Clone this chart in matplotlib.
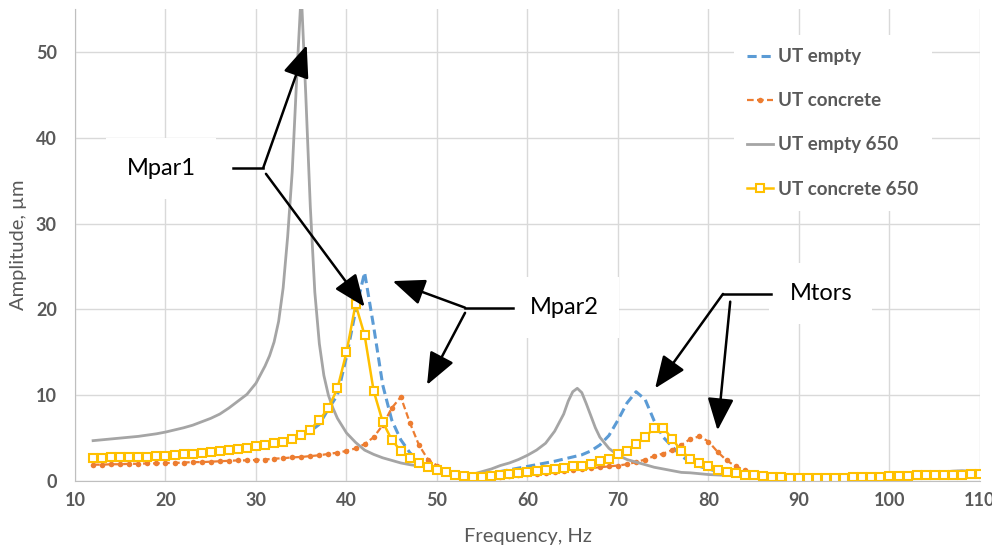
import matplotlib.pyplot as plt

plt.rcParams['font.family'] = ['Lato', 'DejaVu Sans']

# Datos (frecuencia en Hz, amplitud en µm)
freq = list(range(12, 111))

ut_concrete_650 = [
    2.7, 2.7, 2.75, 2.75, 2.8, 2.8, 2.85, 2.9, 2.95, 3.0,        # 12-21
    3.1, 3.2, 3.3, 3.4, 3.5, 3.6, 3.75, 3.9, 4.05, 4.2,          # 22-31
    4.4, 4.6, 4.9, 5.4, 6.0, 7.1, 8.5, 10.8, 15.0, 20.6,         # 32-41
    17.0, 10.5, 6.9, 4.8, 3.5, 2.7, 2.1, 1.6, 1.3, 1.0,          # 42-51
    0.75, 0.55, 0.45, 0.45, 0.6, 0.7, 0.8, 0.9, 1.05, 1.2,       # 52-61
    1.3, 1.4, 1.5, 1.7, 1.8, 2.0, 2.3, 2.6, 3.1, 3.5,            # 62-71
    4.3, 5.1, 6.2, 6.2, 4.9, 3.5, 2.6, 2.1, 1.7, 1.3,            # 72-81
    1.1, 0.9, 0.75, 0.65, 0.55, 0.5, 0.45, 0.4, 0.35, 0.3,       # 82-91
    0.3, 0.35, 0.35, 0.4, 0.45, 0.45, 0.5, 0.5, 0.55, 0.6,       # 92-101
    0.6, 0.65, 0.65, 0.7, 0.7, 0.75, 0.75, 0.8, 0.8,             # 102-110
]

ut_concrete = [
    1.9, 1.9, 1.95, 1.95, 2.0, 2.0, 2.05, 2.05, 2.1, 2.1,        # 12-21
    2.15, 2.2, 2.2, 2.25, 2.3, 2.35, 2.4, 2.4, 2.45, 2.5,        # 22-31
    2.6, 2.65, 2.75, 2.8, 2.9, 3.0, 3.15, 3.3, 3.5, 3.8,         # 32-41
    4.3, 5.1, 6.5, 8.5, 9.8, 6.8, 4.2, 2.5, 1.8, 1.3,            # 42-51
    0.9, 0.6, 0.45, 0.4, 0.45, 0.5, 0.6, 0.7, 0.8, 0.85,         # 52-61
    0.95, 1.05, 1.15, 1.25, 1.35, 1.5, 1.6, 1.7, 1.8, 1.95,      # 62-71
    2.2, 2.5, 2.9, 3.2, 3.6, 4.2, 4.9, 5.2, 4.6, 3.4,            # 72-81
    2.4, 1.7, 1.3, 0.95, 0.75, 0.6, 0.5, 0.45, 0.4, 0.35,        # 82-91
    0.3, 0.3, 0.3, 0.35, 0.4, 0.4, 0.45, 0.45, 0.5, 0.55,        # 92-101
    0.55, 0.6, 0.6, 0.65, 0.65, 0.7, 0.7, 0.75, 0.75,            # 102-110
]

ut_empty = [
    2.6, 2.6, 2.65, 2.65, 2.7, 2.7, 2.75, 2.8, 2.85, 2.9,        # 12-21
    3.0, 3.1, 3.2, 3.3, 3.4, 3.5, 3.65, 3.8, 3.95, 4.1,          # 22-31
    4.3, 4.5, 4.8, 5.2, 5.8, 6.6, 8.4, 10.0, 14.5, 19.8,         # 32-41
    24.3, 18.0, 11.2, 7.1, 4.8, 3.3, 2.3, 1.8, 1.4, 1.1,         # 42-51
    0.8, 0.6, 0.5, 0.6, 0.85, 1.1, 1.3, 1.5, 1.7, 1.9,           # 52-61
    2.1, 2.3, 2.55, 2.8, 3.05, 3.5, 4.2, 5.3, 7.1, 9.1,          # 62-71
    10.4, 9.5, 7.0, 5.1, 4.0, 2.9, 2.2, 1.7, 1.4, 1.1,           # 72-81
    0.9, 0.75, 0.65, 0.55, 0.5, 0.45, 0.4, 0.35, 0.3, 0.3,       # 82-91
    0.3, 0.3, 0.35, 0.35, 0.4, 0.45, 0.45, 0.5, 0.5, 0.55,       # 92-101
    0.55, 0.6, 0.6, 0.65, 0.65, 0.7, 0.7, 0.75, 0.75,            # 102-110
]

freq_650 = [12, 13, 14, 15, 16, 17, 18, 19, 20, 21, 22, 23, 24, 25, 26, 27,
            28, 29, 30, 31, 31.5, 32, 32.5, 33, 33.5, 34, 34.5, 35, 35.5, 36,
            36.5, 37, 37.5, 38, 38.5, 39, 40, 41, 42, 43, 44, 45, 46, 47, 48,
            49, 50, 51, 52, 53, 54, 55, 56, 57, 58, 59, 60, 61, 62, 63, 64,
            64.5, 65, 65.5, 66, 66.5, 67, 67.5, 68, 69, 70, 71, 72, 73, 74,
            75, 76, 77, 78, 79, 80, 82, 85, 90, 95, 100, 103, 105, 107, 108,
            109, 110]
ut_empty_650 = [4.7, 4.8, 4.9, 5.0, 5.1, 5.2, 5.35, 5.5, 5.7, 5.95, 6.2, 6.5,
                6.9, 7.3, 7.8, 8.5, 9.3, 10.1, 11.4, 13.4, 14.6, 16.2, 18.6,
                22.5, 28.5, 36.0, 47.0, 57.0, 45.0, 32.0, 22.0, 16.0, 12.3,
                10.0, 8.5, 7.3, 5.6, 4.5, 3.6, 3.1, 2.7, 2.4, 2.1, 1.9, 1.75,
                1.6, 1.4, 1.2, 1.0, 0.8, 0.8, 1.1, 1.4, 1.8, 2.1, 2.5, 3.0,
                3.6, 4.4, 5.8, 7.8, 9.3, 10.4, 10.8, 10.3, 9.0, 7.6, 6.2, 5.1,
                3.8, 3.0, 2.5, 2.2, 1.9, 1.6, 1.4, 1.2, 1.0, 0.95, 0.85, 0.75,
                0.65, 0.55, 0.45, 0.5, 0.6, 0.75, 0.95, 1.15, 1.2, 1.15, 1.05]

BLUE = '#5B9BD5'
ORANGE = '#ED7D31'
GRAY = '#A5A5A5'
YELLOW = '#FFC000'
TXT = '#595959'

fig = plt.figure(figsize=(9.92, 5.48), dpi=100)
ax = fig.add_axes([0.0756, 0.1223, 0.9123, 0.8611])

ax.plot(freq, ut_empty, color=BLUE, lw=2.2, linestyle=(0, (3, 1.6)), label='UT empty')
ax.plot(freq, ut_concrete, color=ORANGE, lw=1.6, linestyle=(0, (3, 1.5)),
        marker='o', markersize=4, markeredgewidth=0, label='UT concrete')
ax.plot(freq_650, ut_empty_650, color=GRAY, lw=2.0, label='UT empty 650')
ax.plot(freq, ut_concrete_650, color=YELLOW, lw=1.8, marker='s', markersize=6,
        markerfacecolor='white', markeredgecolor=YELLOW, markeredgewidth=1.5,
        label='UT concrete 650')

ax.set_xlim(10, 110)
ax.set_ylim(0, 55)
ax.set_xticks(range(10, 111, 10))
ax.set_yticks(range(0, 51, 10))
ax.grid(True, color='#D9D9D9', lw=1)
ax.set_axisbelow(True)
for s in ['top', 'right']:
    ax.spines[s].set_visible(False)
for s in ['left', 'bottom']:
    ax.spines[s].set_color('#BFBFBF')
ax.tick_params(length=0, labelsize=13, labelcolor=TXT)
ax.tick_params(axis='y', pad=13)
ax.tick_params(axis='x', pad=8)
for lab in ax.get_xticklabels() + ax.get_yticklabels():
    lab.set_fontweight('bold')

ax.set_xlabel('Frequency, Hz', fontsize=14.5, color=TXT)
ax.set_ylabel('Amplitude, µm', fontsize=14.5, color=TXT)
ax.xaxis.set_label_coords(0.5, -0.10)
ax.yaxis.set_label_coords(-0.053, 0.5)

leg = ax.legend(loc='upper left', bbox_to_anchor=(0.718, 0.965), frameon=True,
                facecolor='white', edgecolor='none', framealpha=1,
                fontsize=13.5, labelspacing=1.45, handlelength=1.35,
                handletextpad=0.3, borderpad=0.7)
for t in leg.get_texts():
    t.set_color(TXT)
    t.set_fontweight('bold')

# Anotaciones de modos
caja = dict(boxstyle='square,pad=0.85', facecolor='white', edgecolor='none')
flecha = dict(arrowstyle='-|>,head_length=1.1,head_width=0.45', color='black',
              lw=1.8, mutation_scale=18, shrinkA=0, shrinkB=0)

ax.text(19.5, 36.4, 'Mpar1', fontsize=17, ha='center', va='center', bbox=caja, zorder=6)
ax.plot([27.5, 30.8], [36.5, 36.5], color='black', lw=1.8, zorder=7)
ax.annotate('', xy=(35.6, 50.8), xytext=(30.8, 36.5), arrowprops=flecha, zorder=7)
ax.annotate('', xy=(42.0, 20.3), xytext=(31.1, 35.8), arrowprops=flecha, zorder=7)

ax.text(64.1, 20.2, 'Mpar2', fontsize=17, ha='center', va='center', bbox=caja, zorder=6)
ax.plot([53.1, 58.4], [20.2, 20.2], color='black', lw=1.8, zorder=7)
ax.annotate('', xy=(45.1, 23.3), xytext=(53.1, 20.2), arrowprops=flecha, zorder=7)
ax.annotate('', xy=(48.9, 11.2), xytext=(53.1, 19.6), arrowprops=flecha, zorder=7)

ax.text(92.4, 21.9, 'Mtors', fontsize=17, ha='center', va='center', bbox=caja, zorder=6)
ax.plot([81.6, 86.9], [21.8, 21.8], color='black', lw=1.8, zorder=7)
ax.annotate('', xy=(74.1, 10.8), xytext=(81.6, 21.8), arrowprops=flecha, zorder=7)
ax.annotate('', xy=(81.0, 5.9), xytext=(82.4, 20.9), arrowprops=flecha, zorder=7)

fig.savefig('out.png', dpi=100)
